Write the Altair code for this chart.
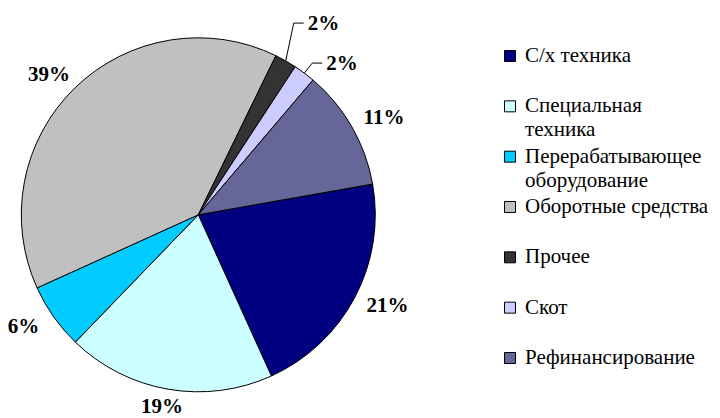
import math
import numpy as np
import pandas as pd
import altair as alt

categories = ["С/х техника", "Специальная техника", "Перерабатывающее оборудование",
              "Оборотные средства", "Прочее", "Скот", "Рефинансирование"]
shares = [21, 19, 6, 39, 2, 2, 11]
colors = ["#000080", "#CCFFFF", "#00CCFF", "#C0C0C0", "#333333", "#CCCCFF", "#666699"]
legend_labels = ["С/х техника", "Специальная\nтехника", "Перерабатывающее\nоборудование",
                 "Оборотные средства", "Прочее", "Скот", "Рефинансирование"]

# layout constants
CX, CY, R = 190.3, 206.8, 177
START_DEG = 80.0
LBL_RX, LBL_RY = 214, 195
FONT = "Liberation Serif, Times New Roman, serif"

pie_df = pd.DataFrame({"category": categories, "share": shares, "idx": range(len(shares))})

# label positions derived from the data (mid angle of each slice)
sh = np.array(shares, dtype=float)
cum = np.concatenate([[0], np.cumsum(sh)])
mid = np.radians(START_DEG + (cum[:-1] + sh / 2) * 3.6)

big_rows, leader_rows, small_rows = [], [], []
prev_elbow_y = None
for i in reversed(range(len(shares))):
    th = mid[i]
    txt = f"{shares[i]}%"
    if shares[i] >= 5:
        big_rows.append({"lx": CX + LBL_RX * math.sin(th), "ly": CY - LBL_RY * math.cos(th), "text": txt})
    else:
        ex, ey = CX + R * math.sin(th), CY - R * math.cos(th)
        elbow_y = ey - 10 if prev_elbow_y is None else min(ey - 10, prev_elbow_y - 40)
        prev_elbow_y = elbow_y
        elbow_x = ex + 8
        end_x = elbow_x + 10
        for k, (px, py) in enumerate([(ex, ey), (elbow_x, elbow_y), (end_x, elbow_y)]):
            leader_rows.append({"lid": i, "pt": k, "x": px, "y": py})
        small_rows.append({"lx": end_x + 4, "ly": elbow_y + 1, "text": txt})

big_df = pd.DataFrame(big_rows)
small_df = pd.DataFrame(small_rows)
leader_df = pd.DataFrame(leader_rows)
legend_df = pd.DataFrame({"category": categories, "label": legend_labels})

color_scale = alt.Scale(domain=categories, range=colors)
start = math.radians(START_DEG)

arc = alt.Chart(pie_df).mark_arc(outerRadius=R, stroke="black", strokeWidth=1).encode(
    theta=alt.Theta("share:Q", stack=True, scale=alt.Scale(range=[start, start + 2 * math.pi])),
    color=alt.Color("category:N", scale=color_scale, legend=None),
    order=alt.Order("idx:Q"),
    x=alt.value(CX),
    y=alt.value(CY),
)

big_text = alt.Chart(big_df).mark_text(
    font=FONT, fontSize=21, fontWeight="bold", color="black", align="center", baseline="middle"
).encode(
    x=alt.X("lx:Q", scale=None, axis=None),
    y=alt.Y("ly:Q", scale=None, axis=None),
    text="text:N",
)

small_text = alt.Chart(small_df).mark_text(
    font=FONT, fontSize=21, fontWeight="bold", color="black", align="left", baseline="middle"
).encode(
    x=alt.X("lx:Q", scale=None, axis=None),
    y=alt.Y("ly:Q", scale=None, axis=None),
    text="text:N",
)

leaders = alt.Chart(leader_df).mark_line(color="black", strokeWidth=1).encode(
    x=alt.X("x:Q", scale=None, axis=None),
    y=alt.Y("y:Q", scale=None, axis=None),
    detail="lid:N",
    order="pt:Q",
)

leg_y = alt.Y("category:N", sort=categories, axis=None,
              scale=alt.Scale(type="point", range=[48, 350], padding=0))

leg_sym = alt.Chart(legend_df).mark_square(size=121, stroke="black", strokeWidth=1, opacity=1).encode(
    x=alt.value(502),
    y=leg_y,
    color=alt.Color("category:N", scale=color_scale, legend=None),
)

leg_txt = alt.Chart(legend_df).mark_text(
    font=FONT, fontSize=21, color="black", align="left", baseline="alphabetic",
    dy=6, lineBreak="\n", lineHeight=24
).encode(
    x=alt.value(517),
    y=leg_y,
    text="label:N",
)

chart = alt.layer(arc, leaders, big_text, small_text, leg_sym, leg_txt).resolve_scale(
    x="independent", y="independent"
).properties(
    width=704, height=410, padding=0, autosize="none", background="white"
).configure_view(stroke=None)

chart.save("out.html", embed_options={"renderer": "svg", "actions": False})
